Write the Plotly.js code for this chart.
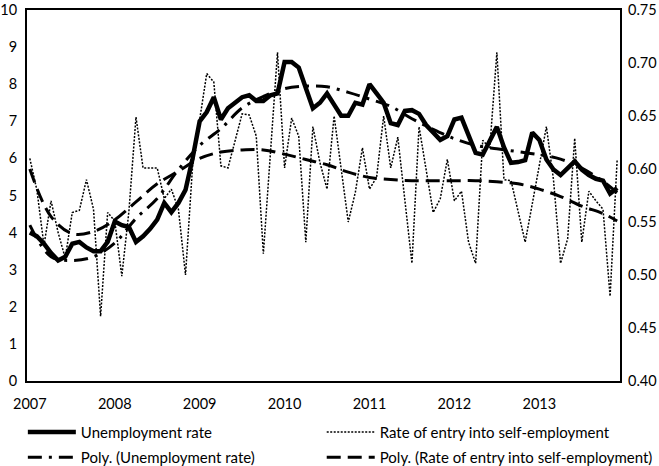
<!DOCTYPE html>
<html>
<head>
<meta charset="utf-8">
<script src="https://cdn.plot.ly/plotly-3.0.1.min.js"></script>
<style>html,body{margin:0;padding:0;background:#fff;}#chart{width:659px;height:466px;}</style>
</head>
<body>
<div id="chart"></div>
<script>
// Monthly index 0..83 (Jan 2007 .. Dec 2013)
const yearLabels = ["2007","2008","2009","2010","2011","2012","2013"];
const yearTickIdx = [0,12,24,36,48,60,72];

const unemploymentRate = [
  4.0, 3.9, 3.7, 3.45, 3.25, 3.35, 3.7, 3.75, 3.6, 3.5, 3.5, 3.75,
  4.3, 4.2, 4.15, 3.75, 3.9, 4.1, 4.35, 4.8, 4.55, 4.8, 5.15, 6.0,
  7.0, 7.25, 7.65, 7.05, 7.35, 7.5, 7.65, 7.7, 7.55, 7.55, 7.7, 7.75,
  8.6, 8.6, 8.45, 7.9, 7.35, 7.5, 7.75, 7.45, 7.15, 7.15, 7.5, 7.45,
  8.0, 7.75, 7.5, 6.95, 6.9, 7.28, 7.3, 7.2, 6.9, 6.7, 6.5, 6.6,
  7.05, 7.1, 6.6, 6.15, 6.1, 6.5, 6.85, 6.3, 5.88, 5.9, 5.95, 6.7,
  6.5, 5.97, 5.7, 5.55, 5.75, 5.92, 5.7, 5.55, 5.45, 5.4, 5.05, 5.2
];

const entryRate = [
  0.610, 0.580, 0.528, 0.570, 0.540, 0.516, 0.559, 0.561, 0.590, 0.562, 0.461, 0.559,
  0.551, 0.499, 0.560, 0.649, 0.601, 0.601, 0.601, 0.572, 0.581, 0.562, 0.500, 0.603,
  0.645, 0.690, 0.682, 0.603, 0.601, 0.626, 0.652, 0.651, 0.631, 0.520, 0.615, 0.710,
  0.601, 0.648, 0.631, 0.531, 0.640, 0.606, 0.581, 0.650, 0.600, 0.550, 0.578, 0.620,
  0.581, 0.592, 0.650, 0.601, 0.630, 0.570, 0.511, 0.640, 0.600, 0.559, 0.572, 0.609,
  0.570, 0.579, 0.531, 0.511, 0.627, 0.620, 0.710, 0.590, 0.589, 0.560, 0.531, 0.567,
  0.604, 0.640, 0.590, 0.511, 0.534, 0.629, 0.531, 0.579, 0.570, 0.562, 0.480, 0.609
];

// Trend lines (every 3 months)
const trendIdx = [0,3,6,9,12,15,18,21,24,27,30,33,36,39,42,45,48,51,54,57,60,63,66,69,72,75,78,81,83];
const polyUnemployment = [4.2,3.35,3.25,3.35,3.72,4.38,4.92,5.7,6.35,6.8,7.36,7.67,7.88,7.95,7.93,7.78,7.6,7.4,7.07,6.78,6.53,6.35,6.26,6.18,6.1,5.98,5.74,5.38,5.08];
const polyEntry = [0.600,0.555,0.539,0.541,0.552,0.569,0.586,0.598,0.610,0.616,0.618,0.618,0.614,0.609,0.604,0.597,0.592,0.590,0.589,0.589,0.589,0.589,0.588,0.586,0.581,0.574,0.565,0.558,0.551];

const monthIdx = unemploymentRate.map((_, i) => i);
const FONT = "Lato, 'Open Sans', sans-serif";
const FS = 14.5;

const traces = [
  {x: monthIdx, y: unemploymentRate, name: "Unemployment rate", type: "scatter", mode: "lines",
   line: {color: "#000", width: 4.5}, legend: "legend"},
  {x: monthIdx, y: entryRate, name: "Rate of entry into self-employment", type: "scatter", mode: "lines",
   yaxis: "y2", line: {color: "#000", width: 1.5, dash: "2px,1.5px"}, legend: "legend2"},
  {x: trendIdx, y: polyUnemployment, name: "Poly. (Unemployment rate)", type: "scatter", mode: "lines",
   line: {color: "#000", width: 3, dash: "14px,7px,3px,7px", shape: "spline"}, legend: "legend3"},
  {x: trendIdx, y: polyEntry, name: "Poly. (Rate of entry into self-employment)", type: "scatter", mode: "lines",
   yaxis: "y2", line: {color: "#000", width: 3, dash: "14px,7px", shape: "spline"}, legend: "legend4"}
];

const legBase = {orientation: "v", bgcolor: "rgba(0,0,0,0)", borderwidth: 0,
  font: {family: FONT, size: 15, color: "#000"}, yanchor: "middle", xanchor: "left", itemwidth: 48};

const layout = {
  width: 659, height: 466,
  margin: {l: 27, r: 39, t: 10, b: 85, autoexpand: false},
  paper_bgcolor: "#fff", plot_bgcolor: "#fff",
  font: {family: FONT, size: FS, color: "#000"},
  xaxis: {range: [-0.4, 83.4], tickmode: "array", tickvals: yearTickIdx, ticktext: yearLabels,
    showgrid: false, zeroline: false, showline: true, mirror: true, linecolor: "#000", linewidth: 2,
    ticks: "", ticklabelstandoff: 9, ticklabeloverflow: "allow", tickfont: {family: FONT, size: FS}},
  yaxis: {range: [0, 10], dtick: 1, showgrid: false, zeroline: false, showline: true, mirror: true,
    linecolor: "#000", linewidth: 2, ticks: "", ticklabelstandoff: 5, ticklabeloverflow: "allow",
    tickfont: {family: FONT, size: FS}},
  yaxis2: {range: [0.40, 0.75], dtick: 0.05, tickformat: ".2f", overlaying: "y", side: "right",
    showgrid: false, zeroline: false, showline: false, ticks: "", ticklabelstandoff: 7,
    ticklabeloverflow: "allow", tickfont: {family: FONT, size: FS}},
  legend: Object.assign({}, legBase, {x: -0.007, y: -0.138}),
  legend2: Object.assign({}, legBase, {x: 0.497, y: -0.138}),
  legend3: Object.assign({}, legBase, {x: -0.007, y: -0.206}),
  legend4: Object.assign({}, legBase, {x: 0.497, y: -0.206}),
  showlegend: true
};

Plotly.newPlot("chart", traces, layout, {displayModeBar: false, staticPlot: true});
</script>
</body>
</html>
